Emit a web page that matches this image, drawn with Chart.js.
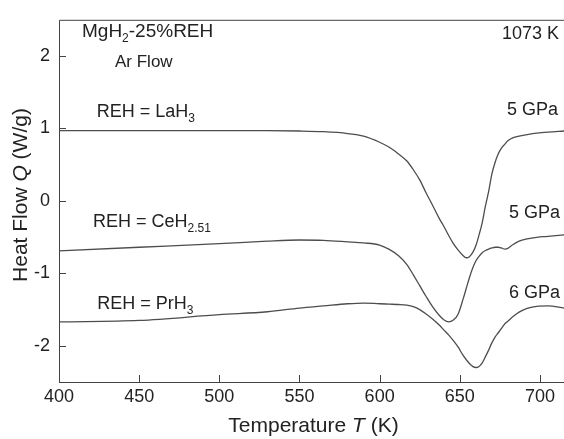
<!DOCTYPE html>
<html lang="en">
<head>
  <meta charset="UTF-8">
  <title>MgH2-25%REH - Heat Flow</title>
  <script src="https://cdn.jsdelivr.net/npm/chart.js"></script>
  <style>
    body { margin: 0; background: #fff; }
    .chart-box { width: 564px; height: 439px; }
  </style>
</head>
<body>
  <div class="chart-box">
    <canvas id="dsc-chart" width="564" height="439"></canvas>
  </div>

  <script>
    // Temperature (K) sample points
    const temps = [400, 450, 500, 530, 550, 565, 580, 590, 600, 606, 612, 617, 621, 625, 629, 633, 637, 640, 643, 646,
                   649, 652, 654, 656, 658, 660, 662, 664, 666, 668, 670, 672, 674, 676, 678, 680, 683, 687, 692, 698, 705, 715];

    // Heat flow Q (W/g) for each hydride
    const laH3 = [0.97, 0.97, 0.97, 0.97, 0.965, 0.955, 0.93, 0.895, 0.81, 0.74, 0.645, 0.55, 0.43, 0.29, 0.11, -0.06, -0.235, -0.35, -0.475, -0.59,
                  -0.68, -0.755, -0.785, -0.77, -0.715, -0.62, -0.47, -0.30, -0.07, 0.13, 0.37, 0.53, 0.65, 0.73, 0.78, 0.83, 0.87, 0.895, 0.915, 0.935, 0.95, 0.965];
    const ceH251 = [-0.69, -0.64, -0.59, -0.555, -0.54, -0.545, -0.565, -0.58, -0.61, -0.67, -0.76, -0.88, -1.02, -1.17, -1.32, -1.46, -1.575, -1.64, -1.67, -1.645,
                    -1.56, -1.36, -1.21, -1.06, -0.93, -0.83, -0.765, -0.715, -0.685, -0.665, -0.65, -0.64, -0.64, -0.65, -0.665, -0.655, -0.605, -0.555, -0.525, -0.503, -0.49, -0.47];
    const prH3 = [-1.67, -1.65, -1.57, -1.53, -1.48, -1.45, -1.42, -1.41, -1.42, -1.425, -1.43, -1.44, -1.46, -1.5, -1.56, -1.63, -1.71, -1.78, -1.85, -1.93,
                  -2.02, -2.13, -2.19, -2.245, -2.285, -2.30, -2.285, -2.235, -2.15, -2.06, -1.96, -1.88, -1.82, -1.76, -1.70, -1.66, -1.60, -1.535, -1.485, -1.455, -1.45, -1.48];

    const xTicks = [400, 450, 500, 550, 600, 650, 700];
    const yTicks = [-2, -1, 0, 1, 2];

    const FONT = '"Liberation Sans", Arial, Helvetica, sans-serif';
    const INK = '#222';

    // draws a line of text made of normal / italic / subscript pieces
    function drawRuns(ctx, x, y, parts, size, align) {
      let total = 0;
      const items = parts.map(([text, kind]) => {
        const font = kind === 'sub' ? '12px ' + FONT : (kind === 'it' ? 'italic ' : '') + size + 'px ' + FONT;
        ctx.font = font;
        const w = ctx.measureText(text).width;
        total += w;
        return { text, font, w, dy: kind === 'sub' ? 5 : 0 };
      });
      let cx = align === 'right' ? x - total : align === 'center' ? x - total / 2 : x;
      items.forEach(it => {
        ctx.font = it.font;
        ctx.fillText(it.text, cx, y + it.dy);
        cx += it.w;
      });
    }

    const framePlugin = {
      id: 'frame',
      afterDraw(chart) {
        const { ctx, chartArea: a, scales: { x, y } } = chart;
        ctx.save();
        ctx.strokeStyle = '#444';
        ctx.lineWidth = 1;
        ctx.beginPath();
        // top line, left axis, bottom axis
        ctx.moveTo(a.left + 0.5, a.bottom);
        ctx.lineTo(a.left + 0.5, a.top + 0.5);
        ctx.lineTo(a.right, a.top + 0.5);
        ctx.moveTo(a.left, a.bottom + 0.5);
        ctx.lineTo(a.right, a.bottom + 0.5);
        // inward ticks
        x.ticks.forEach(t => {
          const px = Math.round(x.getPixelForValue(t.value)) + 0.5;
          ctx.moveTo(px, a.bottom);
          ctx.lineTo(px, a.bottom - 7);
        });
        y.ticks.forEach(t => {
          const py = Math.round(y.getPixelForValue(t.value)) + 0.5;
          ctx.moveTo(a.left, py);
          ctx.lineTo(a.left + 7, py);
        });
        ctx.stroke();

        ctx.fillStyle = INK;
        ctx.textBaseline = 'alphabetic';
        drawRuns(ctx, 82, 37, [['MgH', 'n'], ['2', 'sub'], ['-25%REH', 'n']], 19, 'left');
        drawRuns(ctx, 115, 66.7, [['Ar Flow', 'n']], 17, 'left');
        drawRuns(ctx, 559, 39.3, [['1073 K', 'n']], 18, 'right');
        drawRuns(ctx, 96.7, 117.3, [['REH = LaH', 'n'], ['3', 'sub']], 18, 'left');
        drawRuns(ctx, 558, 115, [['5 GPa', 'n']], 18, 'right');
        drawRuns(ctx, 93, 227.3, [['REH = CeH', 'n'], ['2.51', 'sub']], 18, 'left');
        drawRuns(ctx, 560, 218.3, [['5 GPa', 'n']], 18, 'right');
        drawRuns(ctx, 560, 297.7, [['6 GPa', 'n']], 18, 'right');
        drawRuns(ctx, 97.3, 309, [['REH = PrH', 'n'], ['3', 'sub']], 18, 'left');

        // axis titles
        drawRuns(ctx, 313.5, 432, [['Temperature ', 'n'], ['T', 'it'], [' (K)', 'n']], 21, 'center');
        ctx.translate(26.7, 195);
        ctx.rotate(-Math.PI / 2);
        drawRuns(ctx, 0, 0, [['Heat Flow ', 'n'], ['Q', 'it'], [' (W/g)', 'n']], 21, 'center');
        ctx.restore();
      }
    };

    function series(values) {
      return {
        data: temps.map((t, i) => ({ x: t, y: values[i] })),
        borderColor: '#4d4d4d',
        borderWidth: 1.3,
        pointRadius: 0,
        fill: false,
        cubicInterpolationMode: 'monotone'
      };
    }

    new Chart(document.getElementById('dsc-chart'), {
      type: 'line',
      data: {
        datasets: [series(laH3), series(ceH251), series(prH3)]
      },
      options: {
        responsive: false,
        animation: false,
        devicePixelRatio: 1,
        layout: { padding: { top: 13, right: 0, left: 0, bottom: 0 } },
        plugins: { legend: { display: false }, tooltip: { enabled: false } },
        scales: {
          x: {
            type: 'linear',
            min: 400,
            max: 715,
            grid: { display: false, drawTicks: false },
            border: { display: false },
            afterBuildTicks: s => { s.ticks = xTicks.map(v => ({ value: v })); },
            afterFit: s => { s.height = 57; },
            ticks: { padding: 4, color: INK, font: { family: FONT, size: 18 } }
          },
          y: {
            min: -2.5,
            max: 2.5,
            grid: { display: false, drawTicks: false },
            border: { display: false },
            afterBuildTicks: s => { s.ticks = yTicks.map(v => ({ value: v })); },
            afterFit: s => { s.width = 59; },
            ticks: { padding: 9, color: INK, font: { family: FONT, size: 18 } }
          }
        }
      },
      plugins: [framePlugin]
    });
  </script>
</body>
</html>
